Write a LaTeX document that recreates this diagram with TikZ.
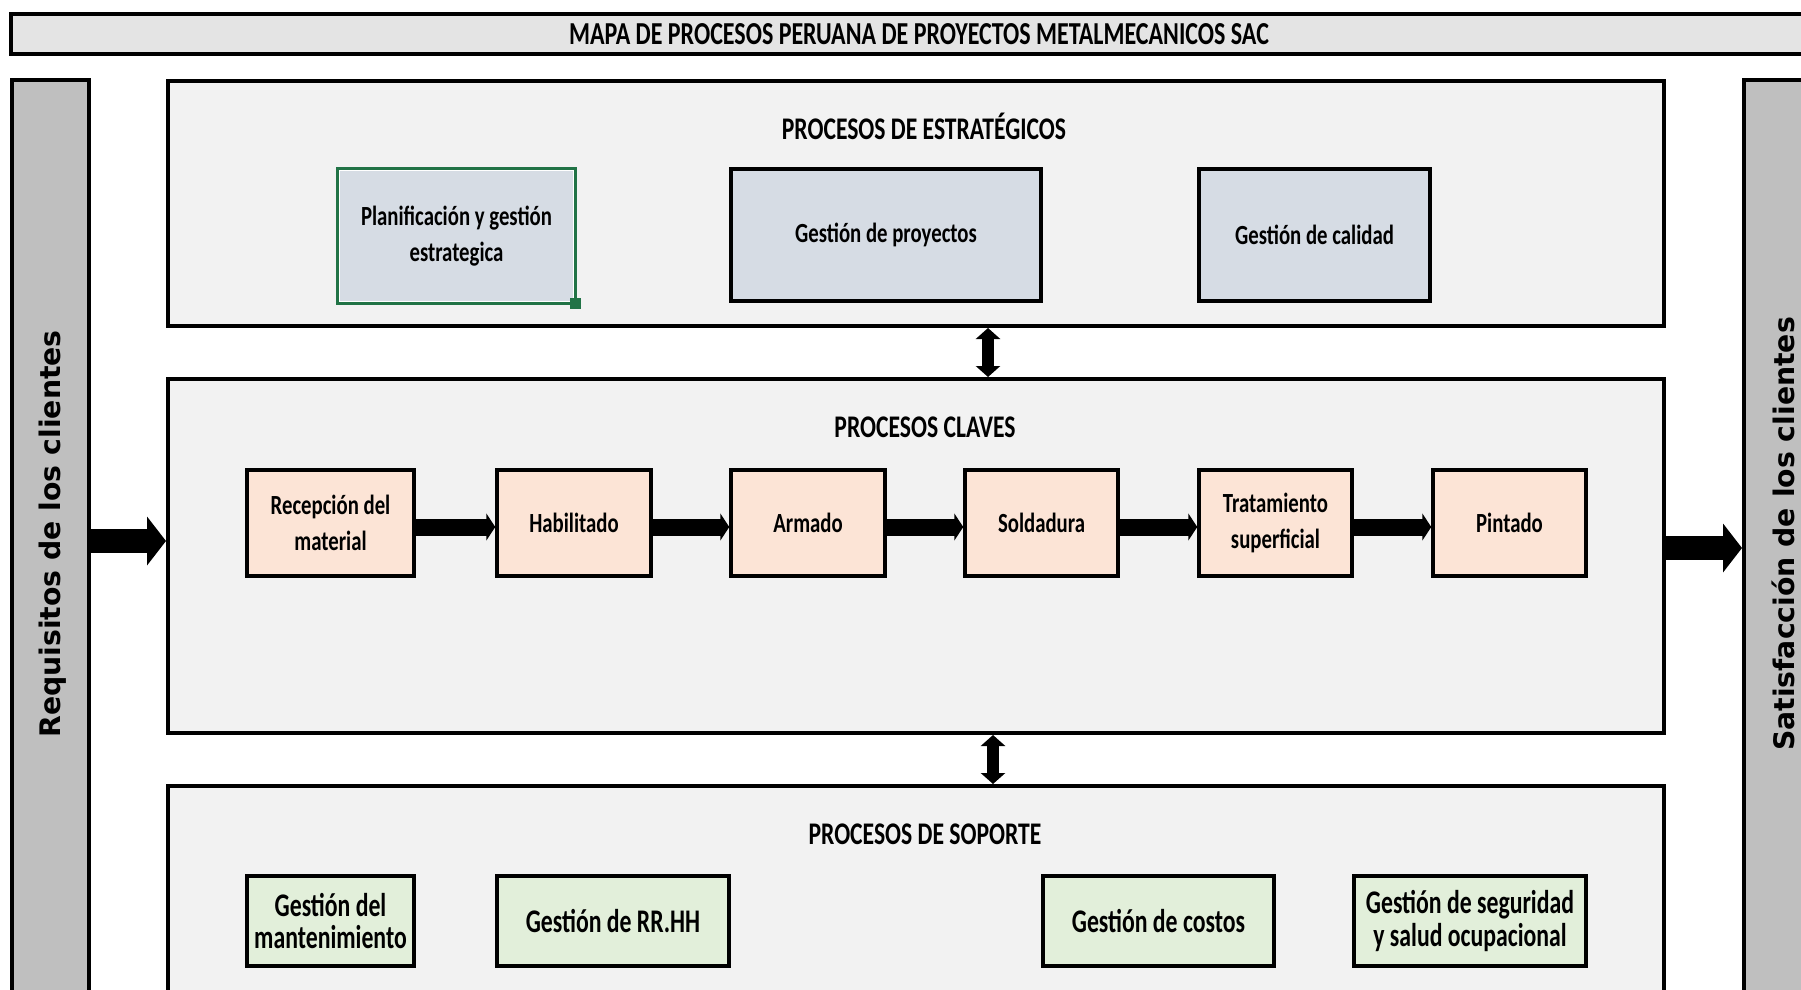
\documentclass[tikz,border=0pt]{standalone}
\usepackage{fontspec}
\setmainfont{Carlito}[FakeStretch=0.75]
\newfontfamily\suppfont{Carlito}[FakeStretch=0.72]
\newfontfamily\sidefont{DejaVu Sans}
\usetikzlibrary{arrows.meta}
\definecolor{titlegray}{HTML}{E4E4E4}
\definecolor{bargray}{HTML}{BFBFBF}
\definecolor{panelgray}{HTML}{F2F2F2}
\definecolor{stratblue}{HTML}{D6DCE4}
\definecolor{keypeach}{HTML}{FCE4D6}
\definecolor{suppgreen}{HTML}{E2EFDA}
\definecolor{selgreen}{HTML}{217346}
\tikzset{
  bigbox/.style={draw=black, line width=4pt, fill=panelgray, inner sep=0pt},
  sidebar/.style={draw=black, line width=4pt, fill=bargray, inner sep=0pt},
  titlebar/.style={draw=black, line width=4pt, fill=titlegray, inner sep=0pt,
    font=\bfseries\fontsize{32}{36}\selectfont},
  sidelabel/.style={font=\sidefont\bfseries\fontsize{28.3}{33}\selectfont, rotate=90, inner sep=0pt},
  paneltitle/.style={font=\bfseries\fontsize{31.5}{36}\selectfont, inner sep=0pt},
  procbox/.style={line width=3.5pt, inner sep=0pt, align=center,
    font=\bfseries\fontsize{27.7}{36}\selectfont},
  stratbox/.style={procbox, draw=black, fill=stratblue},
  keybox/.style={procbox, draw=black, fill=keypeach},
  suppbox/.style={procbox, draw=black, fill=suppgreen, font=\suppfont\bfseries\fontsize{33}{32.5}\selectfont},
  flow/.style={line width=17pt, -{Triangle[length=9pt,width=27pt]}},
  bigflow/.style={line width=24pt, -{Triangle[length=19pt,width=48pt]}},
  link/.style={line width=12pt, {Triangle[length=11pt,width=24pt]}-{Triangle[length=11pt,width=24pt]}}
}
\begin{document}
\begin{tikzpicture}[x=1pt,y=-1pt]
\useasboundingbox (0,0) rectangle (1801,990);
\fill[white] (0,0) rectangle (1801,990);
\clip (0,0) rectangle (1801,990);

% title bar
\node[titlebar, minimum width=1816pt, minimum height=40pt] (title) at (919,34)
  {MAPA DE PROCESOS PERUANA DE PROYECTOS METALMECANICOS SAC};

% side bars
\node[sidebar, minimum width=77pt, minimum height=940pt] (leftbar) at (50.5,550) {};
\node[sidebar, minimum width=100pt, minimum height=940pt] (rightbar) at (1794,550) {};
\node[sidelabel] (reqlabel) at (53,534) {Requisitos de los clientes};
\node[sidelabel] (satlabel) at (1783,534) {Satisfacción de los clientes};

% panels
\node[bigbox, minimum width=1496pt, minimum height=245pt] (strat) at (916,203.5) {};
\node[bigbox, minimum width=1496pt, minimum height=354pt] (claves) at (916,556) {};
\node[bigbox, minimum width=1496pt, minimum height=208pt] (soporte) at (916,890) {};

\node[paneltitle] (strattitle) at (924,126) {PROCESOS DE ESTRATÉGICOS};
\node[paneltitle] (clavestitle) at (925,427) {PROCESOS CLAVES};
\node[paneltitle] (soportetitle) at (925,834) {PROCESOS DE SOPORTE};

% strategic processes
\node[stratbox, draw=selgreen, line width=4pt, minimum width=237pt, minimum height=134pt] (plan) at (456.5,236)
  {Planificación y gestión\\estrategica};
\draw[white, line width=1pt] ([shift={(3.5,3.5)}]plan.north west) rectangle ([shift={(-3.5,-3.5)}]plan.south east);
\node[fill=selgreen, minimum size=11pt, inner sep=0pt] (handle) at ([shift={(-2,-2)}]plan.south east) {};
\node[stratbox, minimum width=310pt, minimum height=132pt] (proy) at (886,235) {Gestión de proyectos};
\node[stratbox, minimum width=231pt, minimum height=132pt] (cal) at (1314.5,235) {Gestión de calidad};

% key processes
\node[keybox, minimum width=167pt, minimum height=106pt] (rec) at (330.5,523) {Recepción del\\material};
\node[keybox, minimum width=154pt, minimum height=106pt] (hab) at (574,523) {Habilitado};
\node[keybox, minimum width=154pt, minimum height=106pt] (arm) at (808,523) {Armado};
\node[keybox, minimum width=153pt, minimum height=106pt] (sol) at (1041.5,523) {Soldadura};
\node[keybox, minimum width=153pt, minimum height=106pt] (tra) at (1275.5,523) {Tratamiento\\superficial};
\node[keybox, minimum width=153pt, minimum height=106pt] (pin) at (1509.5,523) {Pintado};

% support processes
\node[suppbox, minimum width=167pt, minimum height=90pt] (man) at (330.5,921) {Gestión del\\mantenimiento};
\node[suppbox, minimum width=232pt, minimum height=90pt] (rrhh) at (613,921) {Gestión de RR.HH};
\node[suppbox, minimum width=231pt, minimum height=90pt] (cos) at (1158.5,921) {Gestión de costos};
\node[suppbox, minimum width=232pt, minimum height=90pt] (seg) at (1470,921) {Gestión de seguridad\\y salud ocupacional};

% flow arrows
\draw[flow] ([yshift=-4pt]rec.east) -- ([yshift=-4pt]hab.west);
\draw[flow] ([yshift=-4pt]hab.east) -- ([yshift=-4pt]arm.west);
\draw[flow] ([yshift=-4pt]arm.east) -- ([yshift=-4pt]sol.west);
\draw[flow] ([yshift=-4pt]sol.east) -- ([yshift=-4pt]tra.west);
\draw[flow] ([yshift=-4pt]tra.east) -- ([yshift=-4pt]pin.west);

% input / output arrows
\coordinate (inY) at (0,541);
\coordinate (outY) at (0,548);
\draw[bigflow] (leftbar.east |- inY) -- (claves.west |- inY);
\draw[bigflow] (claves.east |- outY) -- (rightbar.west |- outY);

% vertical links
\coordinate (upX) at (988,0);
\coordinate (downX) at (993,0);
\draw[link] (strat.south -| upX) -- (claves.north -| upX);
\draw[link] (claves.south -| downX) -- (soporte.north -| downX);
\end{tikzpicture}
\end{document}
